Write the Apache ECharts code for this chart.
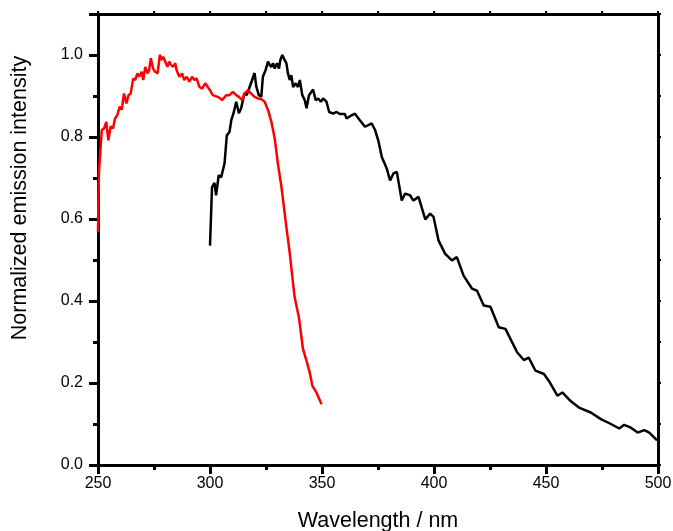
<!DOCTYPE html>
<html>
<head>
<meta charset="utf-8">
<script src="https://cdn.jsdelivr.net/npm/echarts@6/dist/echarts.min.js"></script>
<style>
  html, body { margin: 0; padding: 0; background: #fff; }
</style>
</head>
<body>
<div id="myChart" style="width: 673px; height: 531px;"></div>
<script>
// black curve (wavelength nm, normalized intensity)
var blackX = [300.0, 300.9, 302.0, 302.7, 303.9, 305.0, 306.5, 307.5, 308.7, 309.5, 310.5, 311.7, 312.9, 313.9, 314.7,
  315.4, 316.4, 317.7, 318.4, 319.9, 320.7, 321.8, 322.9, 323.6, 324.8, 325.9, 326.6, 327.4, 328.1, 328.9, 329.9,
  330.8, 331.4, 332.3, 333.3, 334.1, 334.8, 335.6, 336.3, 337.1, 338.3, 339.3, 340.1, 341.2, 342.3, 343.1, 344.2,
  346.0, 347.2, 348.3, 349.5, 350.5, 352.0, 353.2, 355.0, 356.5, 358.0, 360.2, 361.0, 363.2, 364.7, 366.9, 369.2,
  372.2, 373.7, 375.1, 376.7, 378.9, 380.4, 381.9, 383.4, 385.6, 387.1, 389.3, 390.8, 393.1, 396.1, 398.3, 399.8,
  402.0, 405.0, 408.0, 410.2, 413.2, 417.0, 419.2, 422.2, 425.2, 428.9, 431.9, 437.1, 440.1, 442.3, 445.3, 449.1,
  451.3, 455.1, 457.3, 461.0, 464.7, 470.0, 474.5, 479.0, 482.7, 484.9, 487.9, 490.9, 493.9, 496.1, 499.6];
var blackY = [0.535, 0.678, 0.688, 0.658, 0.707, 0.702, 0.736, 0.804, 0.812, 0.841, 0.858, 0.886, 0.858, 0.870, 0.870,
  0.907, 0.902, 0.922, 0.922, 0.956, 0.922, 0.902, 0.898, 0.947, 0.963, 0.984, 0.976, 0.971, 0.980, 0.967, 0.980,
  0.967, 0.988, 1.000, 0.988, 0.980, 0.955, 0.939, 0.951, 0.922, 0.931, 0.922, 0.939, 0.902, 0.890, 0.870, 0.902,
  0.916, 0.890, 0.894, 0.886, 0.894, 0.886, 0.861, 0.857, 0.861, 0.856, 0.856, 0.845, 0.853, 0.857, 0.841, 0.825,
  0.833, 0.817, 0.792, 0.751, 0.723, 0.694, 0.711, 0.715, 0.645, 0.662, 0.658, 0.645, 0.654, 0.599, 0.613, 0.605,
  0.548, 0.515, 0.499, 0.507, 0.462, 0.430, 0.425, 0.389, 0.386, 0.336, 0.332, 0.275, 0.256, 0.262, 0.230, 0.222,
  0.205, 0.169, 0.177, 0.156, 0.140, 0.128, 0.112, 0.100, 0.089, 0.098, 0.091, 0.079, 0.085, 0.079, 0.060];

// red curve
var redX = [250.0, 250.4, 251.7, 252.7, 253.7, 254.6, 255.7, 256.7, 257.6, 258.6, 259.7, 260.6, 261.6, 262.7, 263.6,
  264.6, 265.7, 266.6, 267.6, 268.4, 269.5, 270.2, 271.1, 272.1, 272.8, 273.6, 274.6, 275.5, 276.6, 277.6, 278.5,
  279.1, 280.0, 281.0, 281.8, 282.6, 283.6, 284.5, 285.1, 286.3, 287.5, 288.5, 289.6, 290.8, 292.0, 293.0, 294.0,
  295.3, 296.5, 297.9, 299.0, 300.0, 301.2, 303.5, 305.4, 307.2, 308.7, 310.2, 311.7, 312.9, 314.4, 315.4, 316.9,
  318.4, 319.9, 321.4, 322.9, 324.4, 325.9, 327.4, 328.9, 330.3, 331.9, 334.1, 335.6, 337.1, 337.8, 339.7, 341.5,
  343.1, 344.5, 345.7, 347.5, 349.8];
var redY = [0.568, 0.711, 0.817, 0.821, 0.837, 0.792, 0.826, 0.821, 0.845, 0.853, 0.874, 0.866, 0.906, 0.882, 0.902,
  0.906, 0.943, 0.939, 0.955, 0.947, 0.959, 0.939, 0.971, 0.955, 0.963, 0.992, 0.967, 0.959, 0.955, 1.000, 0.988,
  0.996, 0.984, 0.971, 0.984, 0.976, 0.971, 0.980, 0.963, 0.947, 0.955, 0.939, 0.947, 0.935, 0.947, 0.939, 0.943,
  0.922, 0.918, 0.931, 0.922, 0.914, 0.902, 0.898, 0.890, 0.902, 0.902, 0.910, 0.902, 0.898, 0.890, 0.906, 0.914,
  0.906, 0.898, 0.894, 0.892, 0.886, 0.866, 0.837, 0.796, 0.735, 0.678, 0.580, 0.517, 0.442, 0.409, 0.360, 0.283,
  0.254, 0.226, 0.193, 0.177, 0.148];

var xName = 'Wavelength / nm';
var yName = 'Normalized emission intensity';

function pairs(xs, ys) {
  var out = [];
  for (var i = 0; i < xs.length; i++) out.push([xs[i], ys[i]]);
  return out;
}

var font = 'Liberation Sans, Arial, sans-serif';
var frame = { show: true, onZero: false, lineStyle: { color: '#000', width: 3 } };

var option = {
  animation: false,
  grid: { left: 98, right: 15, top: 14, bottom: 66, outerBoundsMode: 'none', containLabel: false },
  xAxis: [{
    type: 'value', min: 250, max: 500, interval: 50,
    name: xName, nameLocation: 'middle', nameGap: 45,
    nameTextStyle: { fontFamily: font, fontSize: 21.5, color: '#000' },
    axisLine: frame,
    axisTick: { length: 9, lineStyle: { color: '#000', width: 3 } },
    minorTick: { show: true, splitNumber: 2, length: 5, lineStyle: { color: '#000', width: 3 } },
    axisLabel: { fontFamily: font, fontSize: 16, color: '#000', margin: 11 },
    splitLine: { show: false }
  }, {
    type: 'value', position: 'top', min: 250, max: 500, interval: 25,
    axisLine: frame,
    axisTick: { length: 3, lineStyle: { color: '#000', width: 2 } },
    axisLabel: { show: false },
    splitLine: { show: false }
  }],
  yAxis: [{
    type: 'value', min: 0, max: 1.1, interval: 0.2,
    name: yName, nameLocation: 'middle', nameGap: 67,
    nameTextStyle: { fontFamily: font, fontSize: 21.5, color: '#000', padding: [0, 0, 0, 83] },
    axisLine: frame,
    axisTick: { length: 9, lineStyle: { color: '#000', width: 3 } },
    axisLabel: {
      fontFamily: font, fontSize: 16, color: '#000', margin: 15,
      formatter: function (v) { return v > 1.05 ? '' : v.toFixed(1); }
    },
    splitLine: { show: false }
  }, {
    type: 'value', position: 'left', min: 0, max: 1.1, interval: 0.1,
    axisLine: { show: false },
    axisTick: { length: 5, lineStyle: { color: '#000', width: 3 } },
    axisLabel: { show: false },
    splitLine: { show: false }
  }, {
    type: 'value', position: 'right', min: 0, max: 1.1, interval: 0.1,
    axisLine: frame,
    axisTick: { length: 3, lineStyle: { color: '#000', width: 2 } },
    axisLabel: { show: false },
    splitLine: { show: false }
  }],
  series: [{
    name: 'black', type: 'line', data: pairs(blackX, blackY),
    showSymbol: false, lineStyle: { color: '#000', width: 2.5 }, z: 3
  }, {
    name: 'red', type: 'line', data: pairs(redX, redY),
    showSymbol: false, lineStyle: { color: '#ff0000', width: 2.5 }, z: 4
  }]
};

var myChart = echarts.init(document.getElementById('myChart'));
myChart.setOption(option);
</script>
</body>
</html>
